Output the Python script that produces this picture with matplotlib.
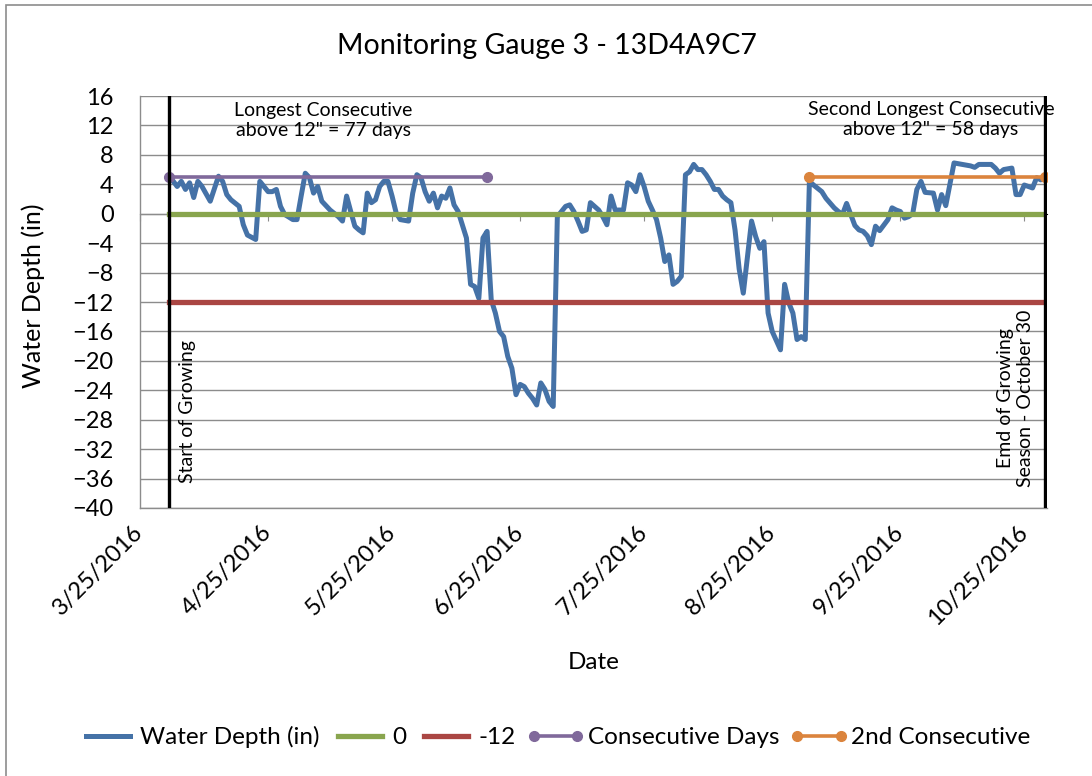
import matplotlib
matplotlib.use('Agg')
import matplotlib.pyplot as plt
import matplotlib.ticker as mticker
import matplotlib.dates as mdates
from matplotlib.patches import Rectangle
import pandas as pd

plt.rcParams['font.family'] = ['Lato', 'DejaVu Sans']

# water depth readings (2016)
depth_dates = ['4/1', '4/3', '4/4', '4/5', '4/6', '4/7', '4/8', '4/9', '4/11', '4/13',
               '4/14', '4/15', '4/16', '4/18', '4/19', '4/20', '4/22', '4/23', '4/25', '4/26',
               '4/27', '4/28', '4/29', '5/1', '5/2', '5/3', '5/4', '5/5', '5/6', '5/7',
               '5/8', '5/10', '5/12', '5/13', '5/14', '5/15', '5/16', '5/17', '5/18', '5/19',
               '5/20', '5/21', '5/22', '5/23', '5/24', '5/25', '5/26', '5/27', '5/29', '5/30',
               '5/31', '6/1', '6/2', '6/3', '6/4', '6/5', '6/6', '6/7', '6/8', '6/9',
               '6/10', '6/11', '6/12', '6/13', '6/14', '6/15', '6/16', '6/17', '6/18', '6/19',
               '6/20', '6/21', '6/22', '6/23', '6/24', '6/25', '6/26', '6/27', '6/28', '6/29',
               '6/30', '7/1', '7/2', '7/3', '7/4', '7/5', '7/6', '7/7', '7/8', '7/9',
               '7/10', '7/11', '7/12', '7/14', '7/15', '7/16', '7/17', '7/18', '7/20', '7/21',
               '7/22', '7/23', '7/24', '7/25', '7/26', '7/27', '7/28', '7/29', '7/30', '7/31',
               '8/1', '8/2', '8/3', '8/4', '8/5', '8/6', '8/7', '8/8', '8/9', '8/10',
               '8/11', '8/12', '8/13', '8/14', '8/15', '8/16', '8/17', '8/18', '8/20', '8/21',
               '8/22', '8/23', '8/24', '8/25', '8/27', '8/28', '8/29', '8/30', '8/31', '9/1',
               '9/2', '9/3', '9/4', '9/6', '9/7', '9/9', '9/10', '9/11', '9/12', '9/13',
               '9/14', '9/15', '9/16', '9/17', '9/18', '9/19', '9/20', '9/22', '9/23', '9/24',
               '9/25', '9/26', '9/27', '9/28', '9/29', '9/30', '10/1', '10/3', '10/4', '10/5',
               '10/6', '10/8', '10/10', '10/12', '10/13', '10/14', '10/15', '10/17', '10/18', '10/19',
               '10/20', '10/22', '10/23', '10/24', '10/25', '10/27', '10/28', '10/29', '10/30']
depth_in = [5.2, 3.7, 4.4, 3.3, 4.2, 2.2, 4.4, 3.7, 1.7, 5.1,
            4.4, 2.6, 1.9, 1.0, -1.5, -2.9, -3.5, 4.4, 3.0, 3.0,
            3.3, 1.0, -0.1, -0.8, -0.8, 2.4, 5.5, 4.9, 2.8, 3.7,
            1.7, 0.5, -0.4, -1.0, 2.4, 0.3, -1.7, -2.2, -2.6, 2.8,
            1.5, 1.9, 3.7, 4.4, 4.4, 2.4, 0.1, -0.8, -1.0, 2.8,
            5.3, 4.9, 3.0, 1.7, 2.8, 0.8, 2.4, 2.1, 3.5, 1.2,
            0.3, -1.5, -3.3, -9.6, -9.9, -11.5, -3.3, -2.4, -11.7, -13.5,
            -16.0, -16.7, -19.4, -21.0, -24.6, -23.2, -23.5, -24.4, -25.1, -26.0,
            -23.0, -23.9, -25.5, -26.2, -0.4, 0.3, 1.0, 1.2, 0.3, -1.0,
            -2.4, -2.2, 1.5, 0.5, -0.4, -1.5, 2.4, 0.5, 0.5, 4.2,
            3.9, 3.0, 5.3, 3.7, 1.7, 0.5, -0.8, -3.3, -6.5, -5.6,
            -9.6, -9.2, -8.5, 5.3, 5.7, 6.7, 6.0, 6.0, 5.3, 4.4,
            3.3, 3.3, 2.4, 1.9, 1.5, -2.2, -7.5, -10.8, -1.0, -3.1,
            -4.7, -3.8, -13.5, -16.0, -18.5, -9.6, -12.1, -13.5, -17.1, -16.7,
            -17.1, 4.4, 3.9, 3.0, 2.1, 0.8, 0.3, -0.1, 1.4, -0.1,
            -1.6, -2.2, -2.4, -3.0, -4.2, -1.7, -2.3, -0.8, 0.8, 0.5,
            0.3, -0.6, -0.4, 0.0, 3.3, 4.4, 2.9, 2.8, 0.5, 2.6,
            1.1, 6.9, 6.7, 6.5, 6.3, 6.7, 6.7, 6.7, 6.2, 5.5,
            6.0, 6.2, 2.6, 2.6, 3.9, 3.5, 4.9, 4.6, 4.9]

season_dates = ['4/1', '10/30']
zero_ref = [0, 0]
minus12_ref = [-12, -12]
longest_dates = ['4/1', '6/17']
longest_vals = [5, 5]
second_dates = ['9/3', '10/30']
second_vals = [5, 5]


def to_dt(days):
    return pd.to_datetime([d + '/2016' for d in days], format='%m/%d/%Y')


BLUE = '#4572A7'
GREEN = '#89A54E'
RED = '#AA4643'
PURPLE = '#80699B'
ORANGE = '#DB843D'
GRID = '#8c8c8c'

fig = plt.figure(figsize=(10.92, 7.76), dpi=100)
ax = fig.add_axes([140 / 1092, 1 - 508 / 776, 907 / 1092, 412 / 776])

ax.plot(to_dt(depth_dates), depth_in, color=BLUE, lw=3.6, label='Water Depth (in)', zorder=3)
ax.plot(to_dt(season_dates), zero_ref, color=GREEN, lw=3.8, label='0', zorder=4)
ax.plot(to_dt(season_dates), minus12_ref, color=RED, lw=3.8, label='-12', zorder=4)
ax.plot(to_dt(longest_dates), longest_vals, color=PURPLE, lw=2.6, marker='o', ms=7,
        label='Consecutive Days', zorder=5)
ax.plot(to_dt(second_dates), second_vals, color=ORANGE, lw=2.6, marker='o', ms=7,
        label='2nd Consecutive', zorder=5)

for d in to_dt(season_dates):
    ax.axvline(d, color='black', lw=2.4, zorder=6)

ax.set_ylim(-40, 16)
ax.set_yticks(range(-40, 17, 4))
ax.set_xlim(pd.Timestamp('2016-03-25'), pd.Timestamp('2016-10-30 12:00'))
ax.xaxis.set_major_locator(mdates.DayLocator(bymonthday=25))
ax.xaxis.set_major_formatter(mticker.FuncFormatter(
    lambda v, pos: '{0.month}/{0.day}/{0.year}'.format(mdates.num2date(v))))

ax.grid(axis='y', color=GRID, lw=1.0)
ax.set_axisbelow(True)
for s in ['top', 'right']:
    ax.spines[s].set_visible(False)
for s in ['left', 'bottom']:
    ax.spines[s].set_color(GRID)
    ax.spines[s].set_linewidth(1.0)

ax.tick_params(axis='y', length=0, pad=19, labelsize=17)
ax.tick_params(axis='x', length=0, pad=15, labelsize=17)
for lbl in ax.get_xticklabels():
    lbl.set_rotation(45)
    lbl.set_ha('right')
    lbl.set_va('center')
    lbl.set_rotation_mode('anchor')

# small tick marks where the date axis crosses zero
sec = ax.secondary_xaxis(40 / 56)
sec.xaxis.set_major_locator(mdates.DayLocator(bymonthday=25))
sec.tick_params(axis='x', direction='in', length=5, color=GRID, labeltop=False, labelbottom=False)

ax.set_xlabel('Date', fontsize=17.5, va='center')
ax.xaxis.set_label_coords(0.5, -0.374)
ax.set_ylabel('Water Depth (in)', fontsize=18, va='center')
ax.yaxis.set_label_coords(-0.118, 0.515)

fig.text(0.501, 1 - 46 / 776, 'Monitoring Gauge 3 - 13D4A9C7', ha='center', va='center', fontsize=20.5)

ax.text(0.202, 0.94, 'Longest Consecutive\nabove 12" = 77 days', transform=ax.transAxes,
        ha='center', va='center', fontsize=14, zorder=7)
ax.text(0.872, 0.942, 'Second Longest Consecutive\nabove 12" = 58 days', transform=ax.transAxes,
        ha='center', va='center', fontsize=14, zorder=7, clip_on=False)
ax.text(0.052, 0.061, 'Start of Growing', transform=ax.transAxes, rotation=90,
        ha='center', va='bottom', fontsize=14, zorder=7)
ax.text(0.965, 0.051, 'Emd of Growing\nSeason - October 30', transform=ax.transAxes, rotation=90,
        ha='center', va='bottom', multialignment='center', fontsize=14, zorder=7)

fig.legend(loc='center', bbox_to_anchor=(0.508, 1 - 737 / 776), ncol=5, frameon=False,
           fontsize=17.5, handlelength=2.4, handletextpad=0.12, columnspacing=0.45, numpoints=2)

# chart area border
fig.add_artist(Rectangle((6 / 1092, -0.1), 1.2, 1.1 - 5 / 776, transform=fig.transFigure,
                         fill=False, edgecolor='#8c8c8c', lw=1.2))

fig.savefig('out.png', dpi=100)
